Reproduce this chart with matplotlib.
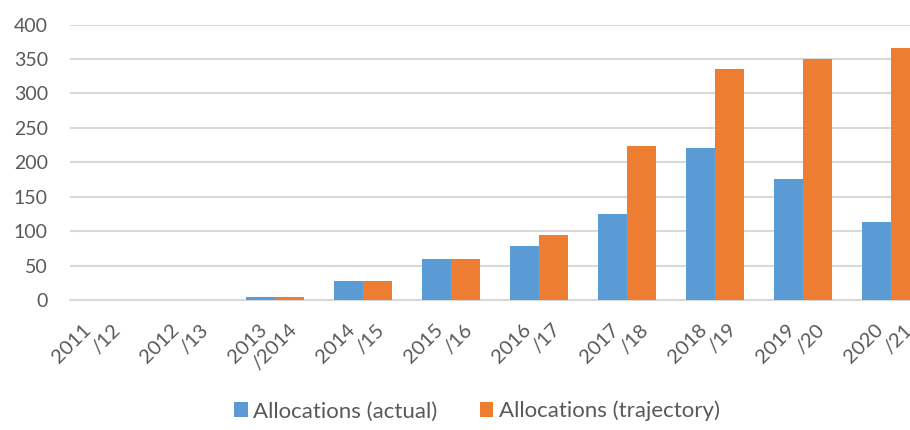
import matplotlib

matplotlib.use("Agg")
import matplotlib.pyplot as plt
import numpy as np

YEARS = ["2011\n/12", "2012\n/13", "2013\n/2014", "2014\n/15", "2015\n/16",
         "2016\n/17", "2017\n/18", "2018\n/19", "2019\n/20", "2020\n/21"]
ACTUAL = [0, 0, 4, 28, 60, 78, 125, 221, 176, 113]
TRAJECTORY = [0, 0, 4, 28, 60, 94, 223, 335, 350, 366]
Y_TICKS = [0, 50, 100, 150, 200, 250, 300, 350, 400]

BLUE = "#5B9BD5"
ORANGE = "#ED7D31"
TEXT = "#595959"
GRID = "#D9D9D9"
PX = 0.72  # points per pixel at 100 dpi

plt.rcParams["font.family"] = ["Lato", "DejaVu Sans"]


def main() -> None:
    fig = plt.figure(figsize=(9.1, 4.3), dpi=100)
    ax = fig.add_axes([70 / 910, 130 / 430, 840 / 910, 275.5 / 430])

    x = np.arange(len(YEARS))
    w = 0.33
    ax.bar(x - w / 2, ACTUAL, w, color=BLUE, label="Allocations (actual)", zorder=3)
    ax.bar(x + w / 2, TRAJECTORY, w, color=ORANGE,
           label="Allocations (trajectory)", zorder=3)

    ax.set_xlim(-0.33, 9.216)
    ax.set_ylim(0, 400)
    ax.set_yticks(Y_TICKS)
    ax.yaxis.grid(True, color=GRID, lw=1.5, zorder=0)
    ax.set_axisbelow(True)
    for s in ["top", "right", "left"]:
        ax.spines[s].set_visible(False)
    ax.spines["bottom"].set_color(GRID)
    ax.spines["bottom"].set_linewidth(1.5)

    ax.tick_params(axis="y", length=0, pad=16, labelsize=14, labelcolor=TEXT)
    ax.set_xticks(x)
    ax.set_xticklabels([])
    ax.tick_params(axis="x", length=0)

    # two-line year labels, each line placed on its own along the diagonal
    for i, lab in enumerate(YEARS):
        first, second = lab.split("\n")
        for txt, (dx, dy) in ((first, (-17, -21)), (second, (13, -21))):
            ax.annotate(txt, xy=(i, 0), xycoords=("data", "axes fraction"),
                        xytext=(dx * PX, dy * PX), textcoords="offset points",
                        rotation=45, rotation_mode="anchor", ha="right",
                        va="top", fontsize=14.5, color=TEXT,
                        annotation_clip=False)

    fig.legend(loc="center", bbox_to_anchor=(0.524, 0.044), ncol=2,
               frameon=False, fontsize=16, labelcolor=TEXT,
               handlelength=0.62, handleheight=0.62, handletextpad=0.25,
               columnspacing=1.9)

    fig.savefig("out.png", dpi=100)


if __name__ == "__main__":
    main()
